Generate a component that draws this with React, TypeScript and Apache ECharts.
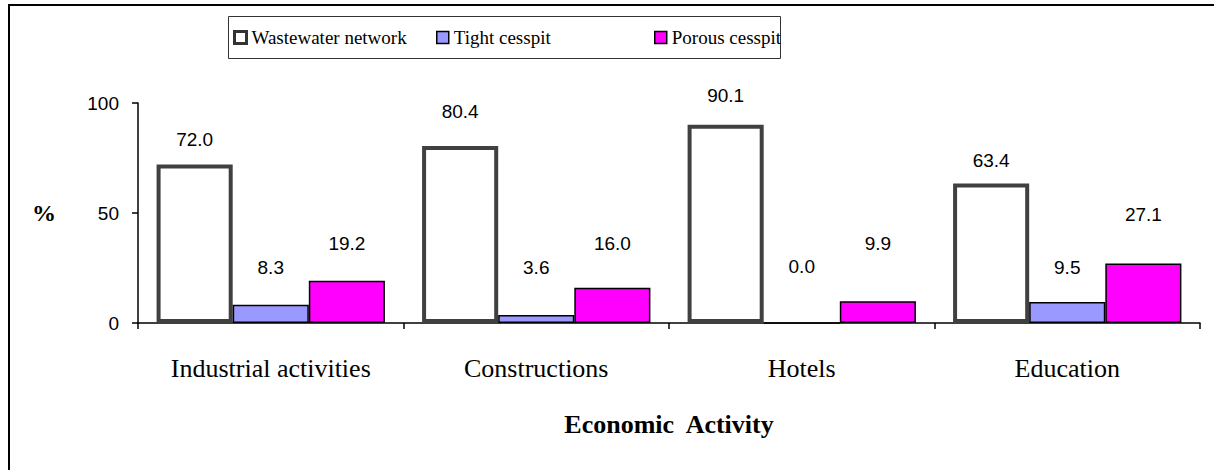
import React, { useEffect, useRef } from "react";
import * as echarts from "echarts";

const categories = ["Industrial activities", "Constructions", "Hotels", "Education"];
const seriesNames = ["Wastewater network", "Tight cesspit", "Porous cesspit"];
const wastewater = [72.0, 80.4, 90.1, 63.4];
const tight = [8.3, 3.6, 0.0, 9.5];
const porous = [19.2, 16.0, 9.9, 27.1];
const yTicks = { min: 0, max: 100, interval: 50 };

// label distance above bar top (px), matching the hand-placed labels of the original
const wastewaterLabelGap = [16, 25, 20, 14];
const tightLabelGap = [28, 38, 46, 25];
const porousLabelGap = [28, 35, 48, 39];

const SERIF = "'Liberation Serif', 'Times New Roman', serif";
const SANS = "'Liberation Sans', Arial, sans-serif";

export default function App() {
  const ref = useRef<HTMLDivElement>(null);
  useEffect(() => {
    if (!ref.current) return;
    const chart = echarts.init(ref.current, null, { renderer: "svg" });
    const mk = (vals: number[], gaps: number[]) =>
      vals.map((v, i) => ({ value: v, label: { distance: gaps[i] } }));
    const labelCommon = {
      show: true,
      position: "top" as const,
      formatter: (p: any) => Number(p.value).toFixed(1),
      fontFamily: SANS,
      fontSize: 19,
      color: "#000",
    };
    const legendText = { fontFamily: SERIF, fontSize: 19, color: "#000" };
    const legendBase = {
      top: 28,
      itemWidth: 12,
      itemHeight: 12,
      icon: "rect",
      textStyle: legendText,
      padding: 0,
    };
    chart.setOption({
      animation: false,
      backgroundColor: "#fff",
      graphic: [
        {
          type: "rect",
          shape: { x: 9, y: 5, width: 1400, height: 800 },
          style: { fill: "none", stroke: "#000", lineWidth: 2 },
          silent: true,
        },
        {
          type: "rect",
          shape: { x: 228.5, y: 16.5, width: 552, height: 42 },
          style: { fill: "none", stroke: "#333", lineWidth: 1 },
          silent: true,
        },
      ],
      legend: [
        {
          ...legendBase,
          data: [seriesNames[0]],
          left: 233,
          itemStyle: { color: "#fff", borderColor: "#333", borderWidth: 3 },
        },
        {
          ...legendBase,
          data: [seriesNames[1]],
          left: 436,
          itemStyle: { color: "#9999FF", borderColor: "#000", borderWidth: 1.5 },
        },
        {
          ...legendBase,
          data: [seriesNames[2]],
          left: 654,
          itemStyle: { color: "#FF00FF", borderColor: "#000", borderWidth: 1.5 },
        },
      ],
      grid: { left: 138, right: 14, top: 103, bottom: 147, containLabel: false },
      xAxis: {
        type: "category",
        data: categories,
        boundaryGap: true,
        name: "Economic  Activity",
        nameLocation: "middle",
        nameGap: 88,
        nameTextStyle: { fontFamily: SERIF, fontSize: 26, fontWeight: "bold", color: "#000" },
        axisLine: { lineStyle: { color: "#000", width: 1.5 } },
        axisTick: { show: true, length: 6, lineStyle: { color: "#000", width: 1.5 } },
        axisLabel: { fontFamily: SERIF, fontSize: 26, color: "#000", margin: 32 },
        splitLine: { show: false },
      },
      yAxis: {
        type: "value",
        min: yTicks.min,
        max: yTicks.max,
        interval: yTicks.interval,
        name: "%",
        nameLocation: "middle",
        nameRotate: 0,
        nameGap: 82,
        nameTextStyle: { fontFamily: SERIF, fontSize: 24, fontWeight: "bold", color: "#000" },
        axisLine: { show: true, lineStyle: { color: "#000", width: 1.5 } },
        axisTick: { show: true, length: 6, lineStyle: { color: "#000", width: 1.5 } },
        axisLabel: { fontFamily: SANS, fontSize: 19, color: "#000", margin: 19 },
        splitLine: { show: false },
      },
      series: [
        {
          name: seriesNames[0],
          type: "bar",
          data: mk(wastewater, wastewaterLabelGap),
          barGap: "0%",
          barCategoryGap: "14%",
          itemStyle: { color: "#fff", borderColor: "#404040", borderWidth: 4 },
          label: labelCommon,
        },
        {
          name: seriesNames[1],
          type: "bar",
          data: mk(tight, tightLabelGap),
          barGap: "0%",
          barCategoryGap: "14%",
          itemStyle: { color: "#9999FF", borderColor: "#000", borderWidth: 1.5 },
          label: labelCommon,
        },
        {
          name: seriesNames[2],
          type: "bar",
          data: mk(porous, porousLabelGap),
          barGap: "0%",
          barCategoryGap: "14%",
          itemStyle: { color: "#FF00FF", borderColor: "#000", borderWidth: 1.5 },
          label: labelCommon,
        },
      ],
    });
    return () => chart.dispose();
  }, []);
  return (
    <div
      ref={ref}
      style={{ position: "fixed", left: 0, top: 0, width: 1214, height: 470 }}
    />
  );
}
